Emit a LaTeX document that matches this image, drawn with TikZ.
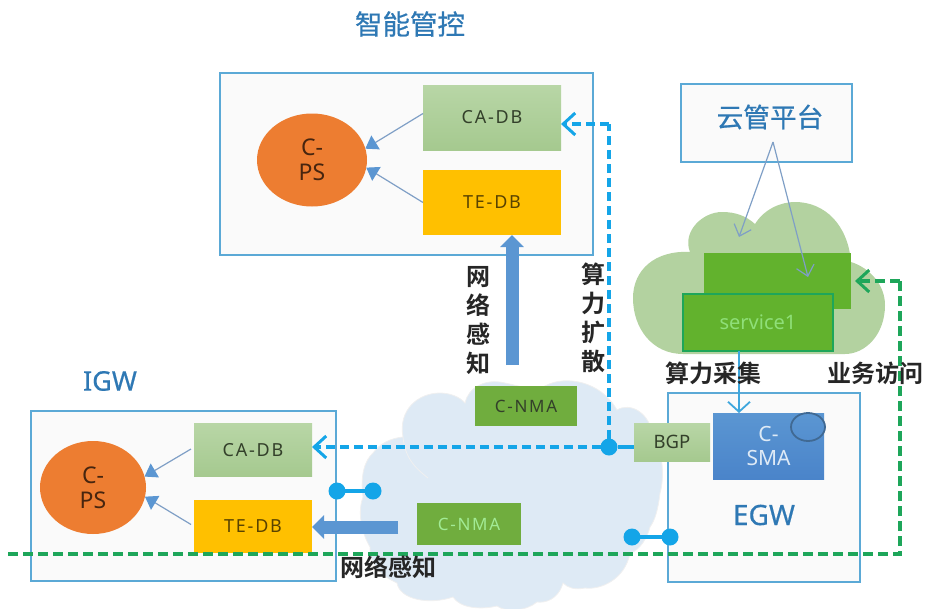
\documentclass[tikz,border=0pt]{standalone}
\usepackage{fontspec}
\setmainfont{Noto Sans}
\newfontfamily\lsp[LetterSpace=10]{Noto Sans}
\newfontfamily\semi[FakeBold=0.5]{Noto Sans}
\newfontfamily\cjk[FakeBold=0.7]{Noto Sans CJK SC}
\newfontfamily\cjkb{Noto Sans CJK SC Bold}
\usetikzlibrary{shapes.geometric,arrows.meta}
\definecolor{boxline}{HTML}{5BA9D6}
\definecolor{boxfill}{HTML}{FAFAFA}
\definecolor{orangeC}{HTML}{ED7D31}
\definecolor{greenL2}{HTML}{B8D6A6}
\definecolor{greenL3}{HTML}{A5C98F}
\definecolor{amberC}{HTML}{FFC000}
\definecolor{nmaC}{HTML}{70AD3E}
\definecolor{svcC}{HTML}{62B22D}
\definecolor{cyanC}{HTML}{14A5E8}
\definecolor{dashG}{HTML}{1EA65A}
\definecolor{thickB}{HTML}{5B96D2}
\definecolor{smaB}{HTML}{4A84CA}
\definecolor{thinB}{HTML}{7F9FC6}
\definecolor{titleB}{HTML}{2E78B4}
\definecolor{cloudB}{HTML}{DEEAF5}
\definecolor{cloudG}{HTML}{B3D2A0}
\definecolor{darkT}{HTML}{33402A}
\tikzset{
  x=1pt,y=-1pt,
  panel/.style={draw=boxline,fill=boxfill,line width=1.2pt,inner sep=0pt,outer sep=0pt},
  cps/.style={ellipse,fill=orangeC,inner sep=0pt,outer sep=0pt,minimum width=110pt,minimum height=93pt,align=center,font=\fontsize{23}{25}\selectfont,text=black!70!orangeC},
  dbbox/.style={inner sep=0pt,outer sep=0pt,minimum width=118pt,minimum height=53pt,font=\lsp\fontsize{18}{20}\selectfont},
  cadb/.style={dbbox,top color=greenL2,bottom color=greenL3,text=darkT},
  tedb/.style={dbbox,fill=amberC,text=black!65!amberC},
  nma/.style={fill=nmaC,inner sep=0pt,outer sep=0pt,font=\lsp\fontsize{17}{20}\selectfont},
  thin arrow/.style={draw=thinB,line width=1.2pt,-{Triangle[width=16pt,length=12pt,color=thickB]}},
  thick arrow/.style={draw=thickB,line width=13pt,-{Triangle[width=23pt,length=12pt]}},
  cyan dash/.style={draw=cyanC,line width=3.6pt,dash pattern=on 9pt off 5pt},
  cyan tip/.style={-{Straight Barb[length=12pt,width=22pt,line width=3pt]}},
  green dash/.style={draw=dashG,line width=3.6pt,dash pattern=on 10pt off 5pt},
  dotn/.style={circle,fill=cyanC,inner sep=0pt,outer sep=0pt,minimum size=17pt},
  link/.style={draw=cyanC,line width=4.5pt},
  title/.style={text=titleB,font=\cjk\fontsize{27.5}{30}\selectfont,inner sep=0pt},
  lab/.style={font=\cjkb\fontsize{24}{29}\selectfont,inner sep=0pt,align=center,text=black!85},
}
\begin{document}
\begin{tikzpicture}
\useasboundingbox (0,0) rectangle (926,608);
% green cloud
\fill[cloudG] (683,354)
  .. controls (652,354) and (633,328) .. (633,298)
  .. controls (633,270) and (655,250) .. (690,252)
  .. controls (682,232) and (702,212) .. (722,212)
  .. controls (736,212) and (746,216) .. (755,224)
  .. controls (765,208) and (782,202) .. (795,202)
  .. controls (825,202) and (848,225) .. (851,262)
  .. controls (870,268) and (885,285) .. (885,305)
  .. controls (885,335) and (865,354) .. (845,354) -- cycle;
% blue cloud
\path[fill=cloudB,draw=black!6,line width=0.8pt] (403,437)
  .. controls (398,410) and (418,393) .. (440,393)
  .. controls (450,393) and (460,397) .. (465,403)
  .. controls (468,388) and (485,378) .. (505,383)
  .. controls (520,386) and (535,392) .. (547,385)
  .. controls (565,376) and (600,380) .. (617,410)
  .. controls (630,402) and (650,412) .. (653,437)
  .. controls (664,452) and (664,480) .. (660,493)
  .. controls (658,510) and (655,520) .. (650,527)
  .. controls (645,545) and (635,552) .. (630,553)
  .. controls (625,580) and (600,590) .. (585,588)
  .. controls (575,590) and (568,588) .. (563,583)
  .. controls (558,600) and (545,603) .. (537,602)
  .. controls (525,612) and (505,612) .. (497,606)
  .. controls (480,610) and (460,608) .. (453,597)
  .. controls (430,605) and (400,600) .. (397,583)
  .. controls (380,575) and (370,565) .. (370,547)
  .. controls (360,530) and (358,510) .. (363,497)
  .. controls (360,475) and (365,460) .. (373,453)
  .. controls (380,443) and (392,438) .. (403,437) -- cycle;
\draw[black!6,line width=0.8pt] (403,437) .. controls (405,460) and (418,470) .. (428,478);
% panels
\node[panel,minimum width=373pt,minimum height=182pt] (topP) at (406.5,164) {};
\node[panel,minimum width=305pt,minimum height=170pt] (lowP) at (183.5,496) {};
\node[panel,minimum width=192pt,minimum height=189pt] (egw) at (764,487.5) {};
\node[panel,minimum width=171pt,minimum height=78pt] (cloudP) at (766.5,123) {};
% top panel contents
\node[cps] (cps1) at (312,160) {C-\\PS};
\node[cadb,minimum width=138pt,minimum height=65pt] (ca1) at (492,117.5) {CA-DB};
\node[tedb,minimum width=138pt,minimum height=65pt] (te1) at (492,202.5) {TE-DB};
\draw[thin arrow] (ca1.west) ++(0,-4) coordinate (c1s) -- (cps1.12);
\draw[thin arrow] (te1.west) coordinate (c2s) -- (cps1.-8);
% lower panel contents
\node[cps,minimum width=106pt,minimum height=93pt] (cps2) at (93,487.5) {C-\\PS};
\node[cadb] (ca2) at (253,450) {CA-DB};
\node[tedb] (te2) at (253,526.5) {TE-DB};
\draw[thin arrow] (ca2.west) ++(-3,-1) coordinate (c3s) -- (cps2.12);
\draw[thin arrow] (te2.west) ++(-3,-2) coordinate (c4s) -- (cps2.-10);
% green rects
\node[fill=svcC,inner sep=0pt,outer sep=0pt,minimum width=147pt,minimum height=56pt] (svcBack) at (777.5,281) {};
\node[fill=svcC,draw=dashG,line width=1.2pt,inner sep=0pt,outer sep=0pt,minimum width=150pt,minimum height=57pt,text=green!30!svcC!60!white,font=\fontsize{20}{22}\selectfont] (svc) at (758,322.5) {service1};
% cloud platform arrows
\coordinate (cpS) at (773,142);
\coordinate (cpA) at (739,237);
\coordinate (cpB) at (808,277);
\draw[draw=thinB,line width=1.2pt,-{Straight Barb[length=10pt,width=18pt,line width=1.2pt]}] (cpS) -- (cpA);
\draw[draw=thinB,line width=1.2pt,-{Straight Barb[length=10pt,width=18pt,line width=1.2pt]}] (cpS) -- (cpB);
% C-NMA
\node[nma,text=darkT,minimum width=102pt,minimum height=40pt] (nmaT) at (526,406) {C-NMA};
\node[nma,text=green!30!white!75!nmaC,minimum width=104pt,minimum height=42pt] (nmaB) at (469,524) {C-NMA};
% BGP and C-SMA
\node[top color=greenL2,bottom color=greenL3,inner sep=0pt,outer sep=0pt,minimum width=76pt,minimum height=38pt,text=darkT,font=\fontsize{18.5}{20}\selectfont] (bgp) at (672,442) {BGP};
\node[top color=thickB,bottom color=smaB,inner sep=0pt,outer sep=0pt,minimum width=111pt,minimum height=66pt,align=center,text=white!80!thickB,font=\fontsize{21}{24}\selectfont] (sma) at (768.5,446) {C-\\SMA};
\node[ellipse,draw=black!30!thickB,line width=1.8pt,minimum width=34pt,minimum height=28pt,inner sep=0pt] (smaDot) at (808,427) {};
% thick arrows
\coordinate (upS) at (512,365);
\draw[thick arrow] (upS) -- (te1.south -| upS);
\coordinate (leftS) at (398,527);
\draw[thick arrow] (leftS) -- (te2.east |- leftS);
% cyan dashed
\node[dotn] (hub) at (609,447) {};
\coordinate (turn) at (609,124);
\draw[link] (hub) -- (bgp.west |- hub);
\draw[cyan dash] (hub) -- (turn);
\draw[cyan dash,cyan tip] (turn) -- (ca1.east |- turn);
\draw[cyan dash,cyan tip] (hub) -- (ca2.east |- hub);
% link dots
\node[dotn] (d1) at (337,491) {};
\node[dotn] (d2) at (373,491) {};
\draw[link] (d1.center) -- (d2.center);
\node[dotn] (d3) at (632,537) {};
\node[dotn] (d4) at (670,537) {};
\draw[link] (d3.center) -- (d4.center);
% service to C-SMA
\draw[draw=boxline!60!cyanC,line width=1.8pt,-{Straight Barb[length=10pt,width=22pt,line width=1.8pt]}] (svc.south -| 739,0) -- (sma.north -| 739,0);
% green dashed
\coordinate (gA) at (8,554);
\coordinate (gB) at (900,554);
\coordinate (gC) at (900,281);
\coordinate (gD) at (855,281);
\draw[green dash] (gA) -- (gB) -- (gC);
\draw[green dash,-{Straight Barb[length=12pt,width=22pt,line width=3pt]}] (gC) -- (gD);
% titles and labels
\node[title] (t1) at (410,24) {智能管控};
\node[title,font=\cjk\fontsize{26.7}{32}\selectfont] (t2) at (770,117) {云管平台};
\node[title,font=\semi\fontsize{27}{30}\selectfont] (t3) at (110,381) {IGW};
\node[title,font=\semi\fontsize{28}{30}\selectfont] (t4) at (764,515) {EGW};
\node[lab] (l1) at (478,321) {网\\络\\感\\知};
\node[lab] (l2) at (593,318) {算\\力\\扩\\散};
\node[lab] (l3) at (713,373) {算力采集};
\node[lab] (l4) at (875,373) {业务访问};
\node[lab] (l5) at (388,567) {网络感知};
\end{tikzpicture}
\end{document}
